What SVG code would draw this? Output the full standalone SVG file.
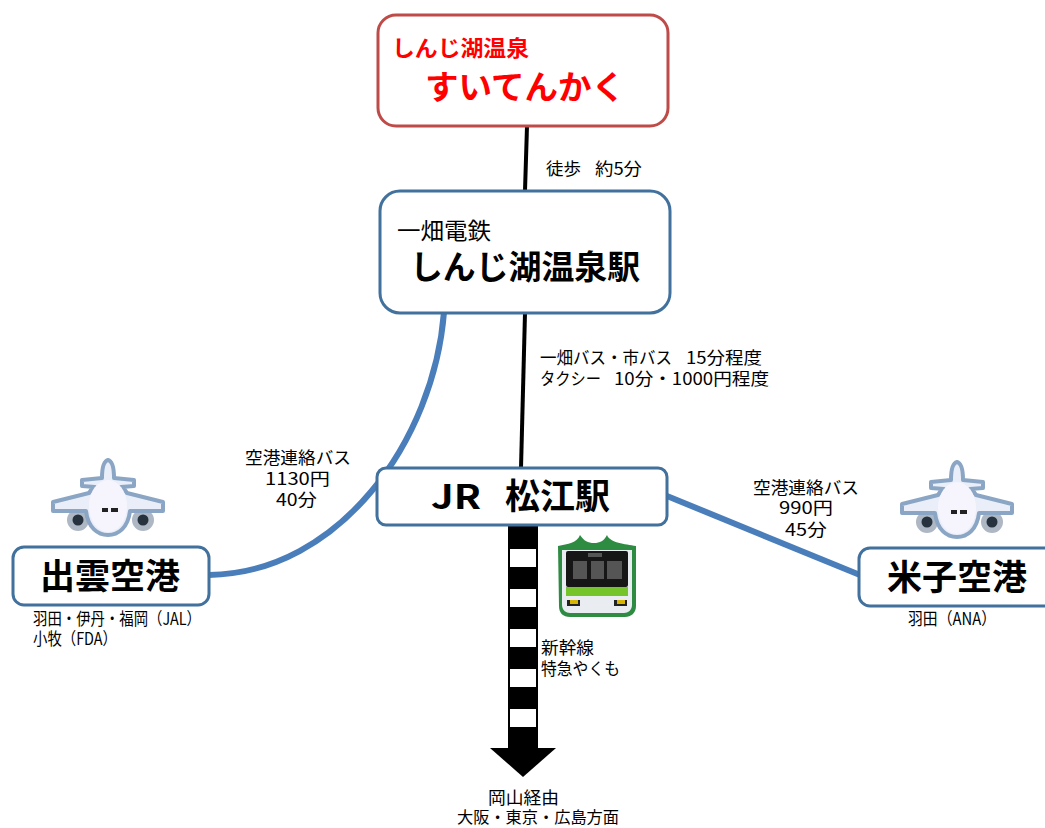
<svg xmlns="http://www.w3.org/2000/svg" width="1045" height="828" viewBox="0 0 1045 828">
<style>
text{font-family:"Noto Sans CJK JP","Noto Sans",sans-serif;fill:#000}
.s{font-size:17px}
.box{fill:#fff;stroke:#41719c;stroke-width:3}
.big{font-size:35px;font-weight:700}
.thin{fill:none;stroke:#000;stroke-width:4}
.thick{fill:none;stroke:#4a7ebb;stroke-width:6}
</style>
<defs>
<filter id="soft" x="-10%" y="-10%" width="120%" height="120%"><feGaussianBlur stdDeviation="0.7"/></filter>
<g id="plane" filter="url(#soft)">
<circle cx="-30" cy="62" r="11" fill="#aeb8c4"/><circle cx="35" cy="62" r="11" fill="#aeb8c4"/>
<path d="M0 2C4 3 6 9 6 20L26 22V28L13 29C16 31 18 33 19 35L55 44V53H22C20 70 10 77 0 77C-10 77-20 70-22 53H-55V44L-19 35C-18 33-16 31-13 29L-26 28V22L-6 20C-6 9-4 3 0 2Z" fill="#e9eef9" stroke="#8ba6c4" stroke-width="4" stroke-linejoin="round"/>
<ellipse cx="0" cy="48" rx="19" ry="26" fill="#f6f5fd"/>
<circle cx="-30" cy="62" r="5.500" fill="#26303c"/><circle cx="35" cy="62" r="5.500" fill="#26303c"/>
<rect x="-6" y="50" width="6" height="4" fill="#222"/><rect x="3" y="50" width="7" height="4" fill="#222"/>
</g>
</defs>
<g id="connectors">
<path class="thin" d="M527 126L525 191"/>
<path class="thin" d="M525 313L521 468"/>
<path class="thick" d="M444 312C434 440 340 573 209 575"/>
<path class="thick" d="M667 496L860 575"/>
<g id="rail">
<rect x="508" y="525" width="30" height="224" fill="#000"/>
<path d="M490 748H556L523 777Z" fill="#000"/>
<g fill="#fff"><rect x="510" y="549" width="26" height="18"/><rect x="510" y="589" width="26" height="18"/><rect x="510" y="629" width="26" height="18"/><rect x="510" y="669" width="26" height="18"/><rect x="510" y="709" width="26" height="18"/></g>
</g>
</g>
<g id="node-suitenkaku">
<rect x="378" y="15" width="290" height="111" rx="18" fill="#fff" stroke="#be4b48" stroke-width="3"/>
<text x="392" y="56" font-size="22" font-weight="700" textLength="137" lengthAdjust="spacingAndGlyphs" style="fill:#f00">しんじ湖温泉</text>
<text x="425" y="99" font-size="33" font-weight="700" textLength="200" lengthAdjust="spacingAndGlyphs" style="fill:#f00">すいてんかく</text>
</g>
<g id="node-shinji-station">
<rect class="box" x="380" y="191" width="290" height="122" rx="20"/>
<text x="397" y="239" font-size="23" textLength="94" lengthAdjust="spacingAndGlyphs">一畑電鉄</text>
<text x="410" y="279" font-size="33" font-weight="700" textLength="230" lengthAdjust="spacingAndGlyphs">しんじ湖温泉駅</text>
</g>
<g id="node-matsue">
<rect class="box" x="377" y="468" width="290" height="57" rx="9"/>
<text x="431" y="509" font-size="34" font-weight="700" textLength="50" lengthAdjust="spacingAndGlyphs">JR</text>
<text x="505" y="509" font-size="35" font-weight="700" textLength="105" lengthAdjust="spacingAndGlyphs">松江駅</text>
</g>
<g id="node-izumo">
<rect class="box" x="13" y="547" width="196" height="58" rx="11"/>
<text class="big" x="40" y="589" textLength="140" lengthAdjust="spacingAndGlyphs">出雲空港</text>
</g>
<g id="node-yonago">
<rect class="box" x="859" y="548" width="200" height="58" rx="11"/>
<text class="big" x="887" y="590" textLength="140" lengthAdjust="spacingAndGlyphs">米子空港</text>
</g>
<use href="#plane" x="108" y="458"/>
<use href="#plane" x="957" y="460"/>
<g id="train" filter="url(#soft)">
<path d="M558 546C568 544 577 543 580 535 584 541 588 543 594 543 600 543 604 541 607 535 610 543 625 544 636 546L636 606C636 613 631 617 625 617H570C563 617 559 613 559 606Z" fill="#2e8b42"/>
<path d="M562 550L632 550 632 605C632 610 628 613 624 613H570C566 613 562 610 562 605Z" fill="#e9edf2"/>
<rect x="566" y="551" width="62" height="36" rx="2" fill="#161616"/>
<rect x="573" y="561" width="14" height="18" fill="#555"/><rect x="591" y="561" width="13" height="18" fill="#555"/><rect x="607" y="561" width="15" height="18" fill="#555"/>
<rect x="588" y="553" width="14" height="4" fill="#555"/>
<rect x="566" y="587" width="62" height="9" fill="#74c42c"/>
<rect x="567" y="600" width="13" height="6" fill="#222"/><rect x="614" y="600" width="13" height="6" fill="#222"/>
<rect x="570" y="600" width="8" height="4" fill="#d7b500"/><rect x="617" y="600" width="8" height="4" fill="#d7b500"/>
</g>
<g id="labels">
<text class="s" x="546" y="175" textLength="35" lengthAdjust="spacingAndGlyphs">徒歩</text>
<text class="s" x="595" y="175" textLength="47" lengthAdjust="spacingAndGlyphs">約5分</text>
<text class="s" x="540" y="364" textLength="132" lengthAdjust="spacingAndGlyphs">一畑バス・市バス</text>
<text class="s" x="686" y="364" textLength="76" lengthAdjust="spacingAndGlyphs">15分程度</text>
<text class="s" x="540" y="385" textLength="61" lengthAdjust="spacingAndGlyphs">タクシー</text>
<text class="s" x="614" y="385" textLength="155" lengthAdjust="spacingAndGlyphs">10分・1000円程度</text>
<text class="s" x="245" y="464" textLength="106" lengthAdjust="spacingAndGlyphs">空港連絡バス</text>
<text class="s" x="265" y="485" textLength="65" lengthAdjust="spacingAndGlyphs">1130円</text>
<text class="s" x="276" y="506" textLength="41" lengthAdjust="spacingAndGlyphs">40分</text>
<text class="s" x="753" y="494" textLength="106" lengthAdjust="spacingAndGlyphs">空港連絡バス</text>
<text class="s" x="779" y="514" textLength="54" lengthAdjust="spacingAndGlyphs">990円</text>
<text class="s" x="785" y="536" textLength="42" lengthAdjust="spacingAndGlyphs">45分</text>
<text class="s" x="33" y="625" textLength="168" lengthAdjust="spacingAndGlyphs">羽田・伊丹・福岡（JAL）</text>
<text class="s" x="33" y="645" textLength="84" lengthAdjust="spacingAndGlyphs">小牧（FDA）</text>
<text class="s" x="908" y="625" textLength="88" lengthAdjust="spacingAndGlyphs">羽田（ANA）</text>
<text class="s" x="541" y="654" textLength="53" lengthAdjust="spacingAndGlyphs">新幹線</text>
<text class="s" x="541" y="675" textLength="79" lengthAdjust="spacingAndGlyphs">特急やくも</text>
<text class="s" x="488" y="804" textLength="71" lengthAdjust="spacingAndGlyphs">岡山経由</text>
<text x="457" y="823" font-size="16" textLength="162" lengthAdjust="spacingAndGlyphs">大阪・東京・広島方面</text>
</g>
</svg>
